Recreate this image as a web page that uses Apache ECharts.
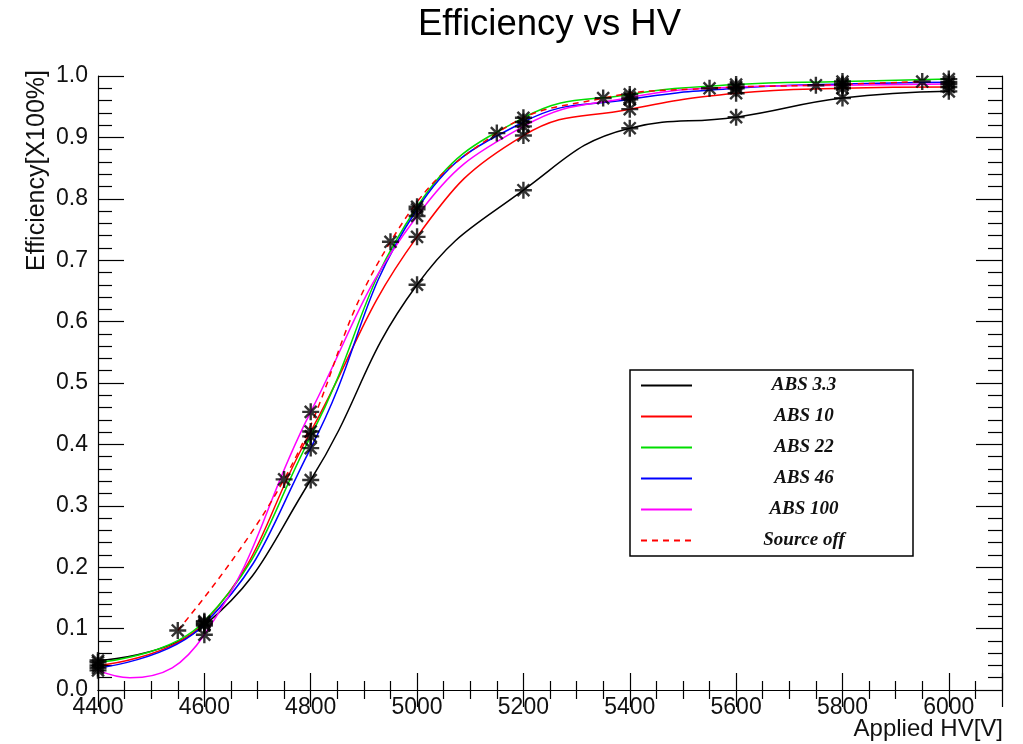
<!DOCTYPE html>
<html>
<head>
<meta charset="utf-8">
<script src="https://cdn.jsdelivr.net/npm/echarts@6/dist/echarts.min.js"></script>
<style>html,body{margin:0;padding:0;background:#fff;}#c{width:1023px;height:744px;}</style>
</head>
<body>
<div id="c"></div>
<script>
// ---- data ----
const hv = [4400, 4600, 4800, 5000, 5200, 5400, 5600, 5800, 6000];
const abs33  = [0.048, 0.105, 0.342, 0.660, 0.814, 0.915, 0.933, 0.964, 0.975];
const abs10  = [0.040, 0.110, 0.421, 0.738, 0.903, 0.946, 0.972, 0.980, 0.982];
const abs22  = [0.045, 0.112, 0.413, 0.787, 0.932, 0.970, 0.986, 0.991, 0.995];
const abs46  = [0.036, 0.107, 0.394, 0.783, 0.925, 0.962, 0.980, 0.987, 0.990];
const abs100 = [0.032, 0.090, 0.453, 0.772, 0.918, 0.965, 0.982, 0.985, 0.987];
const hvOff  = [4550, 4750, 4950, 5150, 5350, 5550, 5750, 5950];
const srcOff = [0.097, 0.343, 0.730, 0.907, 0.964, 0.980, 0.985, 0.991];
// extra point (its minimum)
const abs100CurveExtra = [[4460, 0.020]];
const seriesNames = ['ABS 3.3', 'ABS 10', 'ABS 22', 'ABS 46', 'ABS 100', 'Source off'];
const seriesColors = ['#000000', '#ff0000', '#00dd00', '#0000ff', '#ff00ff', '#ff0000'];
const xTicks = {min: 4400, max: 6100, step: 200};
const yTicks = {min: 0, max: 1, step: 0.1};

// ---- build ----
const pairs = (xs, ys) => xs.map((x, i) => [x, ys[i]]);
const lineSets = [
  pairs(hv, abs33), pairs(hv, abs10), pairs(hv, abs22), pairs(hv, abs46),
  pairs(hv, abs100).concat(abs100CurveExtra).sort((a, b) => a[0] - b[0]),
  pairs(hvOff, srcOff)
];
const markerSets = [
  pairs(hv, abs33), pairs(hv, abs10), pairs(hv, abs22), pairs(hv, abs46),
  pairs(hv, abs100), pairs(hvOff, srcOff)
];
const star = 'path://M43 0L57 0L57 100L43 100Z M0 43L100 43L100 57L0 57Z M10 20L20 10L90 80L80 90Z M80 10L90 20L20 90L10 80Z';

const series = [];
lineSets.forEach((d, i) => {
  series.push({
    name: seriesNames[i], type: 'line', data: d, smooth: 0.45,
    symbol: 'none', showSymbol: false, clip: false, z: 3,
    lineStyle: {color: seriesColors[i], width: 1.5, type: i === 5 ? [6, 5] : 'solid'},
    itemStyle: {color: seriesColors[i]}
  });
});
markerSets.forEach((d) => {
  series.push({
    type: 'scatter', data: d, symbol: star, symbolSize: 17, clip: false, z: 5,
    itemStyle: {color: '#000'}, silent: true
  });
});

const axisFont = {fontFamily: 'Liberation Sans', fontSize: 23, color: '#111'};
const chart = echarts.init(document.getElementById('c'), null, {renderer: 'canvas'});
chart.setOption({
  animation: false,
  backgroundColor: '#fff',
  title: {
    text: 'Efficiency vs HV', left: 413, top: 1,
    textStyle: {fontFamily: 'Liberation Sans', fontSize: 36.5, fontWeight: 'normal', color: '#000'}
  },
  grid: {left: 98, right: 21, top: 76, bottom: 54},
  legend: {
    data: seriesNames, orient: 'vertical', left: 630, top: 370,
    padding: [6, 2, 6, 10], itemGap: 12, itemWidth: 51, itemHeight: 14,
    borderColor: '#000', borderWidth: 1.5, backgroundColor: '#fff',
    itemStyle: {color: 'rgba(0,0,0,0)', borderColor: 'rgba(0,0,0,0)', borderWidth: 0},
    formatter: '{a|{name}}',
    textStyle: {
      fontSize: 19, lineHeight: 14, height: 14,
      rich: {a: {width: 214, height: 14, align: 'center', fontFamily: 'Liberation Serif', fontSize: 19,
        fontWeight: 'bold', fontStyle: 'italic', color: '#111', lineHeight: 14}}
    }
  },
  xAxis: [{
    type: 'value', min: xTicks.min, max: xTicks.max, interval: xTicks.step,
    axisLine: {lineStyle: {color: '#000', width: 1.2}},
    axisTick: {inside: true, length: 17, lineStyle: {color: '#000', width: 1.2}},
    minorTick: {show: true, splitNumber: 4, length: 9, lineStyle: {color: '#000', width: 1.2}},
    splitLine: {show: false},
    axisLabel: Object.assign({margin: 6, showMaxLabel: false, formatter: v => String(v)}, axisFont)
  }, {
    type: 'value', position: 'top', min: xTicks.min, max: xTicks.max, interval: xTicks.step,
    axisLine: {show: true, lineStyle: {color: '#000', width: 1.2}},
    axisTick: {inside: true, length: 17, lineStyle: {color: '#000', width: 1.2}},
    minorTick: {show: true, splitNumber: 4, length: 9, lineStyle: {color: '#000', width: 1.2}},
    splitLine: {show: false}, axisLabel: {show: false}
  }],
  yAxis: [{
    type: 'value', min: yTicks.min, max: yTicks.max, interval: yTicks.step,
    axisLine: {show: true, lineStyle: {color: '#000', width: 1.2}},
    axisTick: {inside: true, length: 26, lineStyle: {color: '#000', width: 1.2}},
    minorTick: {show: true, splitNumber: 5, length: 14, lineStyle: {color: '#000', width: 1.2}},
    splitLine: {show: false},
    axisLabel: Object.assign({margin: 10, formatter: v => v.toFixed(1)}, axisFont)
  }, {
    type: 'value', position: 'right', min: yTicks.min, max: yTicks.max, interval: yTicks.step,
    axisLine: {show: true, lineStyle: {color: '#000', width: 1.2}},
    axisTick: {inside: true, length: 26, lineStyle: {color: '#000', width: 1.2}},
    minorTick: {show: true, splitNumber: 5, length: 14, lineStyle: {color: '#000', width: 1.2}},
    splitLine: {show: false}, axisLabel: {show: false}
  }],
  graphic: [{
    type: 'text', x: 37, y: 70, rotation: Math.PI / 2,
    style: {text: 'Efficiency[X100%]', font: '25px "Liberation Sans"', fill: '#111',
      textAlign: 'right', textVerticalAlign: 'middle'}
  }, {
    type: 'text', x: 1003, y: 729,
    style: {text: 'Applied HV[V]', font: '24px "Liberation Sans"', fill: '#111',
      textAlign: 'right', textVerticalAlign: 'middle'}
  }],
  series: series
});
</script>
</body>
</html>
